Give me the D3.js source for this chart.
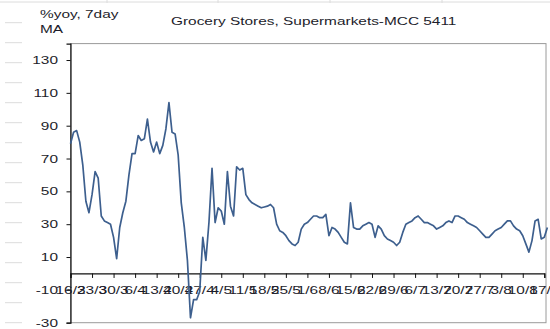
<!DOCTYPE html>
<html>
<head>
<meta charset="utf-8">
<script src="https://cdn.jsdelivr.net/npm/d3@7"></script>
<style>
  html, body { margin: 0; padding: 0; background: #fff; }
  svg { display: block; }
  text { font-family: "Liberation Sans", Arial, sans-serif; fill: #1d1d2b; }
</style>
</head>
<body>
<svg id="chart" width="550" height="329"></svg>
<script>
// Daily 7-day moving average, % year-on-year, starting 16/3
const values = [
  79, 86, 87, 80, 66, 44, 37, 48, 62, 58,
  35, 32, 31, 30, 22, 9, 28, 37, 44, 60,
  73, 73, 84, 81, 82, 94, 80, 74, 80, 73,
  78, 88, 104, 86, 85, 72, 43, 28, 8, -27,
  -16, -16, -11, 22, 8, 31, 64, 31, 40, 38,
  30, 62, 41, 35, 65, 63, 64, 48, 45, 43,
  42, 41, 40, 40.5, 41, 42, 40, 30, 26, 25,
  23, 20, 18, 17, 19, 27, 30, 31, 33, 35,
  35, 34, 34, 36, 23, 28, 27, 25, 22, 19,
  18, 43, 28, 27, 27, 29, 30, 31, 30, 22,
  29, 27, 23, 21, 20, 19, 17, 19, 25, 30,
  31, 32, 34, 35, 33, 31, 31, 30, 29, 27,
  28, 29, 31, 32, 31, 35, 35, 34, 33, 31,
  30, 29, 28, 26, 24, 22, 22, 24, 26, 27,
  28, 30, 32, 32, 29, 27, 26, 23, 18, 13,
  20, 32, 33, 21, 22, 28
];

// Weekly category labels (d/m)
const tickLabels = [
  "16/3", "23/3", "30/3", "6/4", "13/4", "20/4", "27/4", "4/5", "11/5", "18/5",
  "25/5", "1/6", "8/6", "15/6", "22/6", "29/6", "6/7", "13/7", "20/7", "27/7",
  "3/8", "10/8", "17/8"
];
const tickStep = 7;

const yTicks = [-30, -10, 10, 30, 50, 70, 90, 110, 130];
const yDomain = [-30, 140];

const unitLabel = ["%yoy, 7day", "MA"];
const title = "Grocery Stores, Supermarkets-MCC 5411";

const svg = d3.select("#chart");
const W = 550, H = 329;
const plot = { left: 70.5, right: 546, top: 43.6, bottom: 322.7 };
const stretch = 1.4;   // horizontal text stretch
const fontSize = 11;

const x = d3.scaleLinear()
  .domain([0, (tickLabels.length - 1) * tickStep])
  .range([plot.left, 544.3]);
const y = d3.scaleLinear().domain(yDomain).range([plot.bottom, plot.top]);

// stretched text helper
function label(parent, tx, ty, str, anchor) {
  const g = parent.append("g").attr("transform", `translate(${tx},${ty}) scale(${stretch},1)`);
  g.append("text")
    .attr("font-size", fontSize)
    .attr("text-anchor", anchor || "start")
    .text(str);
  return g;
}

// sheet grid remnants around the chart
const sheet = svg.append("g").attr("stroke", "#dcdcdc").attr("stroke-width", 1);
sheet.append("line").attr("x1", 0).attr("x2", W).attr("y1", 2).attr("y2", 2);
[107, 218, 330, 442].forEach(px => {
  sheet.append("line").attr("x1", px).attr("x2", px).attr("y1", 0).attr("y2", 3);
});
d3.range(1, 17).forEach(k => {
  const py = 2.7 + 20 * k;
  sheet.append("line").attr("x1", 5).attr("x2", 22).attr("y1", py).attr("y2", py);
});

// plot frame
svg.append("rect")
  .attr("x", plot.left).attr("y", plot.top)
  .attr("width", plot.right - plot.left).attr("height", plot.bottom - plot.top)
  .attr("fill", "none").attr("stroke", "#9a9a9a").attr("stroke-width", 1);

// y axis
const yAxis = svg.append("g").attr("transform", `translate(${plot.left},0)`)
  .call(d3.axisLeft(y).tickValues(yTicks).tickSize(4).tickFormat(""));
yAxis.select(".domain").attr("stroke", "#111").attr("stroke-width", 1.2);
yAxis.selectAll(".tick line").attr("stroke", "#111");
yTicks.forEach(v => label(svg, 58, y(v) + 4, String(v), "end"));

// x axis along zero
const xTickVals = tickLabels.map((_, i) => i * tickStep);
const xAxis = svg.append("g").attr("transform", `translate(0,${y(0)})`)
  .call(d3.axisBottom(x).tickValues(xTickVals).tickSize(4.5).tickFormat(""));
xAxis.select(".domain").attr("stroke", "#111").attr("stroke-width", 1.2);
xAxis.selectAll(".tick line").attr("stroke", "#111");
tickLabels.forEach((t, i) => label(svg, x(i * tickStep), 294, t, "middle"));

// series line
const line = d3.line().x((d, i) => x(i)).y(d => y(d));
svg.append("path")
  .datum(values)
  .attr("d", line)
  .attr("fill", "none")
  .attr("stroke", "#3d5f8e")
  .attr("stroke-width", 1.7)
  .attr("stroke-linejoin", "round");

// titles
label(svg, 40, 18.3, unitLabel[0]);
label(svg, 40, 32.5, unitLabel[1]);
label(svg, 171, 25, title);
</script>
</body>
</html>
